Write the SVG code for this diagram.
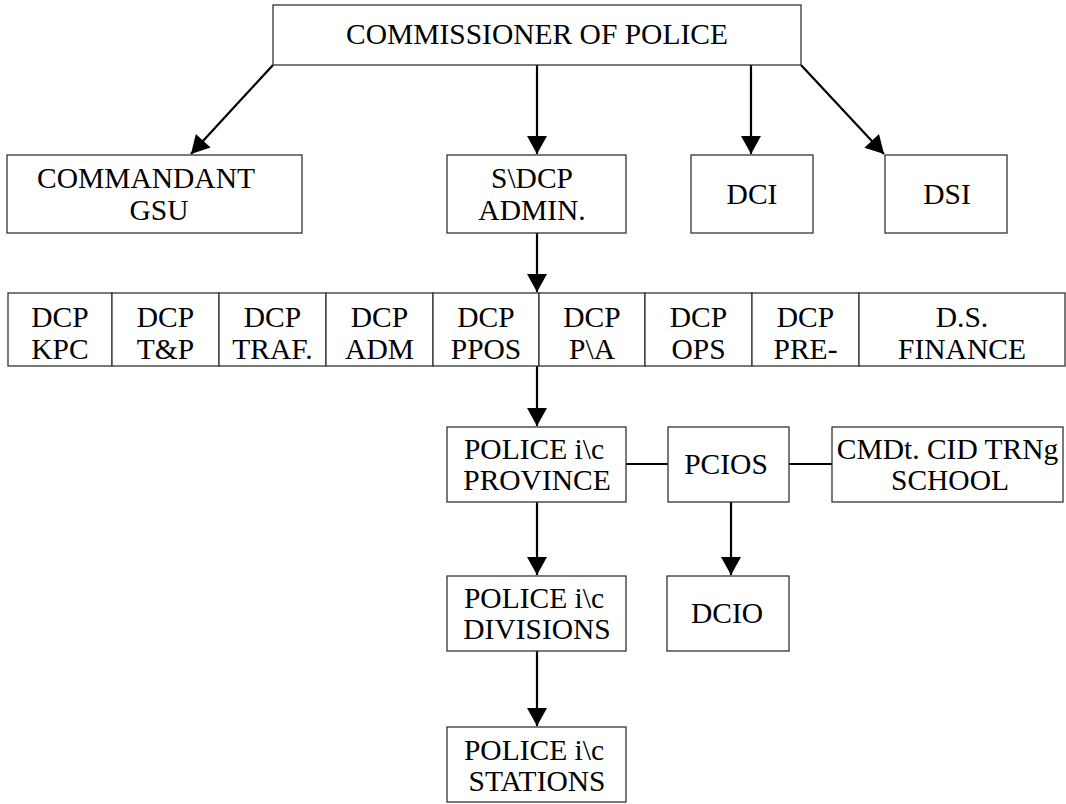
<svg xmlns="http://www.w3.org/2000/svg" width="1066" height="804" viewBox="0 0 1066 804">
<style>
.box{fill:#fff;stroke:#333;stroke-width:1.3}
.t{font-size:29.5px;fill:#000;text-anchor:middle}
.c{fill:none;stroke:#000;stroke-width:2.2}
</style>
<defs>
<marker id="ah" markerUnits="userSpaceOnUse" markerWidth="20" markerHeight="20" viewBox="0 0 18 20" refX="18" refY="10" orient="auto">
<path d="M0,0 L18,10 L0,20 Z" fill="#000"/>
</marker>
</defs>
<rect width="1066" height="804" fill="#fff"/>
<g id="connectors">
<line class="c" x1="273" y1="65" x2="191" y2="154" marker-end="url(#ah)"/>
<line class="c" x1="537" y1="65" x2="537" y2="154" marker-end="url(#ah)"/>
<line class="c" x1="751" y1="65" x2="751" y2="154" marker-end="url(#ah)"/>
<line class="c" x1="801" y1="65" x2="884" y2="154" marker-end="url(#ah)"/>
<line class="c" x1="537" y1="233" x2="537" y2="292" marker-end="url(#ah)"/>
<line class="c" x1="537" y1="366" x2="537" y2="426" marker-end="url(#ah)"/>
<line class="c" x1="537" y1="502" x2="537" y2="575" marker-end="url(#ah)"/>
<line class="c" x1="537" y1="651" x2="537" y2="726" marker-end="url(#ah)"/>
<line class="c" x1="731" y1="502" x2="731" y2="575" marker-end="url(#ah)"/>
<line class="c" x1="626" y1="464" x2="668" y2="464"/>
<line class="c" x1="789" y1="464" x2="832" y2="464"/>
</g>
<g font-family="Liberation Serif, serif">
<g id="commissioner">
<rect class="box" x="273" y="5" width="528" height="60"/>
<text class="t" x="537" y="44">COMMISSIONER OF POLICE</text>
</g>
<g id="commandant">
<rect class="box" x="7" y="155" width="295" height="78"/>
<text class="t" x="146" y="188">COMMANDANT</text>
<text class="t" x="159" y="220">GSU</text>
</g>
<g id="sdcp">
<rect class="box" x="447" y="155" width="179" height="78"/>
<text class="t" x="532" y="188">S\DCP</text>
<text class="t" x="532" y="220">ADMIN.</text>
</g>
<g id="dci">
<rect class="box" x="691" y="155" width="122" height="78"/>
<text class="t" x="752" y="204">DCI</text>
</g>
<g id="dsi">
<rect class="box" x="885" y="155" width="122" height="78"/>
<text class="t" x="947" y="204">DSI</text>
</g>
<g id="dcp-row">
<rect class="box" x="8" y="293" width="104" height="73"/>
<text class="t" x="60" y="327">DCP</text><text class="t" x="60" y="359">KPC</text>
<rect class="box" x="112" y="293" width="107" height="73"/>
<text class="t" x="165.5" y="327">DCP</text><text class="t" x="165.5" y="359">T&amp;P</text>
<rect class="box" x="219" y="293" width="107" height="73"/>
<text class="t" x="272.5" y="327">DCP</text><text class="t" x="272.5" y="359">TRAF.</text>
<rect class="box" x="326" y="293" width="107" height="73"/>
<text class="t" x="379.5" y="327">DCP</text><text class="t" x="379.5" y="359">ADM</text>
<rect class="box" x="433" y="293" width="106" height="73"/>
<text class="t" x="486" y="327">DCP</text><text class="t" x="486" y="359">PPOS</text>
<rect class="box" x="539" y="293" width="106" height="73"/>
<text class="t" x="592" y="327">DCP</text><text class="t" x="592" y="359">P\A</text>
<rect class="box" x="645" y="293" width="107" height="73"/>
<text class="t" x="698.5" y="327">DCP</text><text class="t" x="698.5" y="359">OPS</text>
<rect class="box" x="752" y="293" width="107" height="73"/>
<text class="t" x="805.5" y="327">DCP</text><text class="t" x="805.5" y="359">PRE-</text>
<rect class="box" x="859" y="293" width="206" height="73"/>
<text class="t" x="962" y="327">D.S.</text><text class="t" x="962" y="359">FINANCE</text>
</g>
<g id="province">
<rect class="box" x="447" y="427" width="179" height="75"/>
<text class="t" x="534" y="459">POLICE i\c</text>
<text class="t" x="537" y="490">PROVINCE</text>
</g>
<g id="pcios">
<rect class="box" x="668" y="427" width="121" height="75"/>
<text class="t" x="726" y="474">PCIOS</text>
</g>
<g id="cmdt">
<rect class="box" x="832" y="427" width="231" height="75"/>
<text class="t" x="947.5" y="459">CMDt. CID TRNg</text>
<text class="t" x="950" y="490">SCHOOL</text>
</g>
<g id="divisions">
<rect class="box" x="447" y="576" width="179" height="75"/>
<text class="t" x="534" y="608">POLICE i\c</text>
<text class="t" x="537" y="639">DIVISIONS</text>
</g>
<g id="dcio">
<rect class="box" x="667" y="576" width="122" height="75"/>
<text class="t" x="727" y="623">DCIO</text>
</g>
<g id="stations">
<rect class="box" x="447" y="727" width="179" height="75"/>
<text class="t" x="534" y="760">POLICE i\c</text>
<text class="t" x="537" y="791">STATIONS</text>
</g>
</g>
</svg>
